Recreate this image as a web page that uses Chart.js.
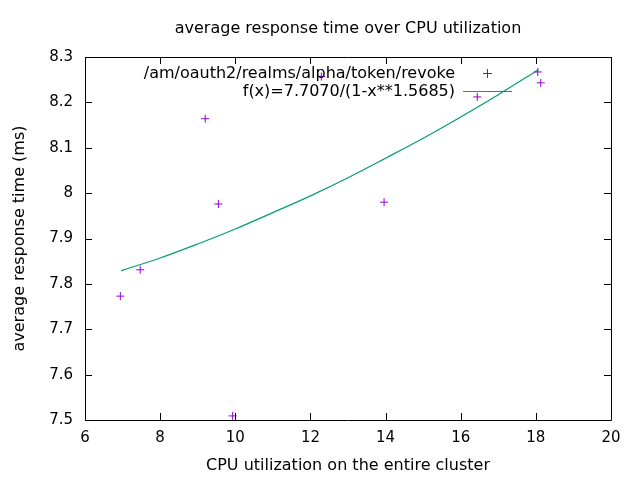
<!DOCTYPE html>
<html>
<head>
<meta charset="utf-8">
<script src="https://cdn.jsdelivr.net/npm/chart.js@4.4.1/dist/chart.umd.min.js"></script>
<style>
  html, body { margin: 0; padding: 0; background: #fff; }
</style>
</head>
<body>
<canvas id="chart" width="640" height="480"></canvas>
<script>
// measured points (CPU %, ms)
const cpuUtil  = [6.94, 7.47, 9.20, 9.55, 9.93, 12.29, 13.96, 16.44, 18.05, 18.13];
const respTime = [7.773, 7.831, 8.164, 7.976, 7.509, 8.257, 7.980, 8.212, 8.267, 8.243];

// fitted curve
const fitX = [6.96, 8, 9, 10, 11, 12, 13, 14, 15, 16, 17, 18.07];
const fitY = [7.829, 7.857, 7.888, 7.921, 7.957, 7.994, 8.034, 8.077, 8.121, 8.168, 8.217, 8.272];

const xTicks = [6, 8, 10, 12, 14, 16, 18, 20];
const yTicks = [7.5, 7.6, 7.7, 7.8, 7.9, 8.0, 8.1, 8.2, 8.3];

const chartTitle = 'average response time over CPU utilization';
const xTitle = 'CPU utilization on the entire cluster';
const yTitle = 'average response time (ms)';
const pointsLabel = '/am/oauth2/realms/alpha/token/revoke';
const fitLabel = 'f(x)=7.7070/(1-x**1.5685)';

const FONT = '"DejaVu Sans", sans-serif';
const TICK_SIZE = 15;
const TEXT_SIZE = 16;
const PURPLE = '#9400D3';
const GREEN = '#009E73';

// border, inward ticks, titles and key drawn gnuplot-style
const gnuplotFrame = {
    id: 'gnuplotFrame',
    afterDraw(chart) {
        const ctx = chart.ctx;
        const a = chart.chartArea;
        const xs = chart.scales.x;
        const ys = chart.scales.y;
        const tick = 7;

        ctx.save();
        ctx.strokeStyle = '#000';
        ctx.lineWidth = 1;
        ctx.beginPath();
        ctx.rect(a.left + 0.5, a.top + 0.5, a.right - a.left, a.bottom - a.top);
        ctx.stroke();

        ctx.beginPath();
        xTicks.forEach(v => {
            const px = Math.round(xs.getPixelForValue(v)) + 0.5;
            ctx.moveTo(px, a.bottom);
            ctx.lineTo(px, a.bottom - tick);
            ctx.moveTo(px, a.top);
            ctx.lineTo(px, a.top + tick);
        });
        yTicks.forEach(v => {
            const py = Math.round(ys.getPixelForValue(v)) + 0.5;
            ctx.moveTo(a.left, py);
            ctx.lineTo(a.left + tick, py);
            ctx.moveTo(a.right, py);
            ctx.lineTo(a.right - tick, py);
        });
        ctx.stroke();

        ctx.fillStyle = '#000';
        ctx.font = TEXT_SIZE + 'px ' + FONT;
        ctx.textBaseline = 'middle';
        ctx.textAlign = 'center';
        ctx.fillText(chartTitle, (a.left + a.right) / 2, 29);
        ctx.fillText(xTitle, (a.left + a.right) / 2, 466);

        ctx.save();
        ctx.translate(20, (a.top + a.bottom) / 2);
        ctx.rotate(-Math.PI / 2);
        ctx.fillText(yTitle, 0, 0);
        ctx.restore();

        // key
        ctx.textAlign = 'right';
        ctx.fillText(pointsLabel, 455, 74);
        ctx.fillText(fitLabel, 455, 92);

        ctx.strokeStyle = PURPLE;
        ctx.beginPath();
        ctx.moveTo(483, 73.5);
        ctx.lineTo(492, 73.5);
        ctx.moveTo(487.5, 69);
        ctx.lineTo(487.5, 78);
        ctx.stroke();

        ctx.strokeStyle = GREEN;
        ctx.beginPath();
        ctx.moveTo(463, 91.5);
        ctx.lineTo(512, 91.5);
        ctx.stroke();
        ctx.restore();
    }
};

const ctx = document.getElementById('chart').getContext('2d');
const chart = new Chart(ctx, {
    type: 'scatter',
    data: {
        datasets: [{
            label: pointsLabel,
            data: cpuUtil.map((x, i) => ({ x: x, y: respTime[i] })),
            pointStyle: 'cross',
            pointRadius: 4,
            pointBorderWidth: 1,
            borderColor: PURPLE,
            backgroundColor: PURPLE,
            showLine: false
        }, {
            label: fitLabel,
            data: fitX.map((x, i) => ({ x: x, y: fitY[i] })),
            showLine: true,
            pointRadius: 0,
            borderColor: GREEN,
            borderWidth: 1.2,
            cubicInterpolationMode: 'monotone'
        }]
    },
    plugins: [gnuplotFrame],
    options: {
        responsive: false,
        animation: false,
        devicePixelRatio: 1,
        layout: { padding: { left: 0, right: 29, top: 57, bottom: 0 } },
        plugins: {
            legend: { display: false },
            title: { display: false },
            tooltip: { enabled: false }
        },
        scales: {
            x: {
                type: 'linear',
                min: 6,
                max: 20,
                afterBuildTicks: s => { s.ticks = xTicks.map(v => ({ value: v })); },
                afterFit: s => { s.height = 60; },
                grid: { display: false, drawTicks: false },
                border: { display: false },
                ticks: {
                    color: '#000',
                    padding: 9,
                    maxRotation: 0,
                    font: { family: FONT, size: TICK_SIZE }
                }
            },
            y: {
                type: 'linear',
                min: 7.5,
                max: 8.3,
                afterBuildTicks: s => { s.ticks = yTicks.map(v => ({ value: v })); },
                afterFit: s => { s.width = 85; },
                grid: { display: false, drawTicks: false },
                border: { display: false },
                ticks: {
                    color: '#000',
                    padding: 12,
                    font: { family: FONT, size: TICK_SIZE },
                    callback: v => String(Math.round(v * 10) / 10)
                }
            }
        }
    }
});
</script>
</body>
</html>
